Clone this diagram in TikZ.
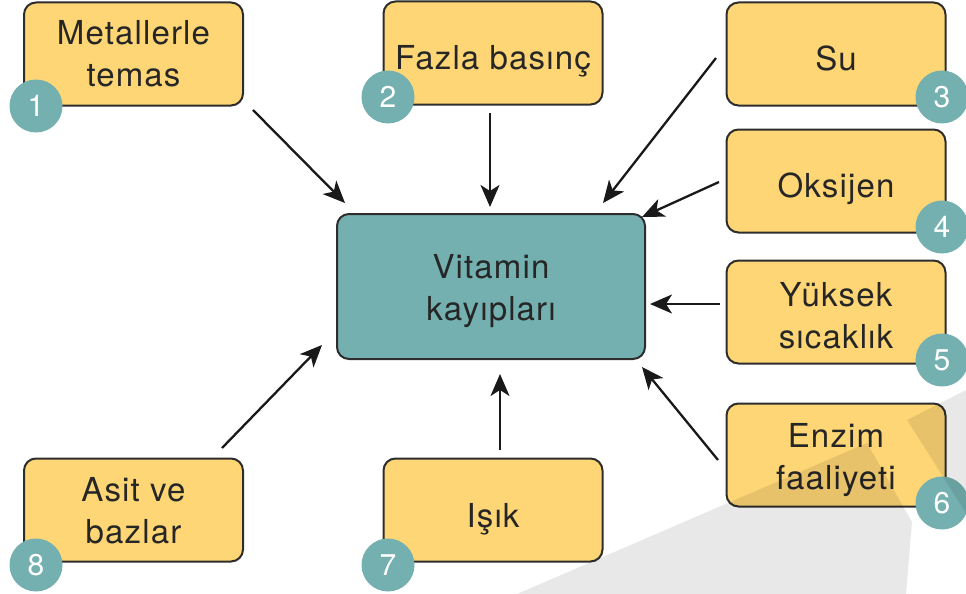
\documentclass[tikz,border=0pt]{standalone}
\usepackage{fontspec}
\setmainfont{TeX Gyre Heros}
\newfontfamily\boxfont[LetterSpace=3.5]{TeX Gyre Heros}
\usetikzlibrary{arrows.meta}
\definecolor{boxyellow}{RGB}{254,214,117}
\definecolor{teal}{RGB}{116,176,176}
\definecolor{edge}{RGB}{45,45,45}
\newcommand{\dn}[2]{\raisebox{-#1}[0pt][0pt]{\begin{tabular}{@{}c@{}}#2\end{tabular}}}
\tikzset{
  factor/.style={draw=edge, line width=2pt, fill=boxyellow, rounded corners=12pt,
    minimum width=219pt, minimum height=103pt, align=center, inner sep=0pt,
    font=\boxfont\fontsize{33}{42}\selectfont, text=black!85},
  centerbox/.style={factor, fill=teal, minimum width=308pt, minimum height=145pt},
  badge/.style={circle, fill=teal, minimum size=53pt, inner sep=0pt,
    text=white, font=\fontsize{30}{30}\selectfont},
  arr/.style={line width=2.3pt, black!90, -{Stealth[length=22pt,width=19pt,inset=6pt]}},
  shade/.style={fill=black, opacity=0.09}
}
\begin{document}
\begin{tikzpicture}[x=1pt,y=-1pt]
\useasboundingbox (0,0) rectangle (966,594);

% boxes
\node[factor] (b1) at (133.5,54) {\dn{9.5pt}{Metallerle\\temas}};
\node[factor] (b2) at (493,53) {\dn{14.5pt}{Fazla basınç}};
\node[factor] (b3) at (836,54) {\dn{14.5pt}{Su}};
\node[factor] (b4) at (836,181) {\dn{14.5pt}{Oksijen}};
\node[factor] (b5) at (836,312) {\dn{13.5pt}{Yüksek\\sıcaklık}};
\node[factor] (b6) at (836,455) {\dn{11.5pt}{Enzim\\faaliyeti}};
\node[factor] (b7) at (493,510) {\dn{15pt}{Işık}};
\node[factor] (b8) at (133.5,510) {\dn{10.5pt}{Asit ve\\bazlar}};
\node[centerbox] (c) at (491,286.5) {\dn{10.5pt}{Vitamin\\kayıpları}};

% badges
\node[badge] (n1) at (36,106) {1};
\node[badge] (n2) at (388,97) {2};
\node[badge] (n3) at (942,97) {3};
\node[badge] (n4) at (942,227) {4};
\node[badge] (n5) at (942,360) {5};
\node[badge] (n6) at (942,503) {6};
\node[badge] (n7) at (388,565) {7};
\node[badge] (n8) at (36,565) {8};

% arrow end points
\coordinate (s1) at (253,110); \coordinate (t1) at (345,203);
\coordinate (s2) at (490,113); \coordinate (t2) at (490,207);
\coordinate (s3) at (716,58);  \coordinate (t3) at (603,203);
\coordinate (s4) at (719,182); \coordinate (t4) at (642,217);
\coordinate (s5) at (720,304); \coordinate (t5) at (650,304);
\coordinate (s6) at (718,460); \coordinate (t6) at (642,367);
\coordinate (s7) at (500,450); \coordinate (t7) at (500,374);
\coordinate (s8) at (222,448); \coordinate (t8) at (322,345);

\foreach \i in {1,...,8} {\draw[arr] (s\i) -- (t\i);}

% grey background shapes
\fill[shade] (517,594) -- (867,443) -- (912,522) -- (906,594) -- cycle;
\fill[shade] (907,420) -- (966,390) -- (966,513) -- cycle;
\end{tikzpicture}
\end{document}
